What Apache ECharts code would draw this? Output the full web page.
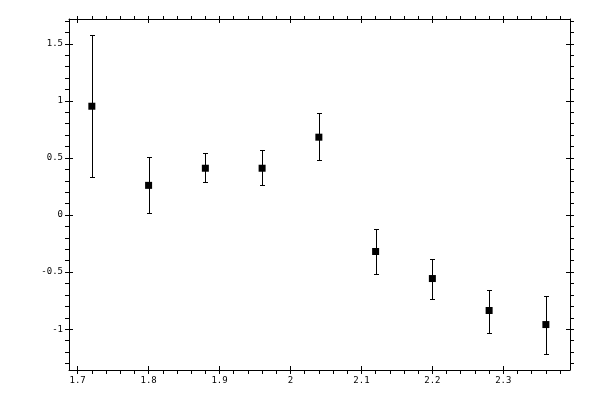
<!DOCTYPE html>
<html>
<head>
<meta charset="utf-8">
<script src="https://cdn.jsdelivr.net/npm/echarts@6/dist/echarts.min.js"></script>
<style>
html,body{margin:0;padding:0;background:#fff;}
#chart{width:600px;height:400px;}
</style>
</head>
<body>
<div id="chart"></div>
<script>
// data
var xValues = [1.72, 1.80, 1.88, 1.96, 2.04, 2.12, 2.20, 2.28, 2.36];
var yValues = [0.953, 0.26, 0.41, 0.41, 0.682, -0.319, -0.556, -0.836, -0.959];
var yLow    = [0.333, 0.015, 0.287, 0.26, 0.48, -0.512, -0.731, -1.029, -1.213];
var yHigh   = [1.576, 0.509, 0.541, 0.567, 0.892, -0.126, -0.381, -0.652, -0.713];

// tick labels / tick positions
var xMajorTicks = [1.7, 1.8, 1.9, 2.0, 2.1, 2.2, 2.3];
var xMinorTicks = [1.72, 1.74, 1.76, 1.78, 1.82, 1.84, 1.86, 1.88, 1.92, 1.94, 1.96, 1.98,
                   2.02, 2.04, 2.06, 2.08, 2.12, 2.14, 2.16, 2.18, 2.22, 2.24, 2.26, 2.28,
                   2.32, 2.34, 2.36, 2.38];
var yMajorTicks = [-1, -0.5, 0, 0.5, 1, 1.5];
var yMinorTicks = [-1.3, -1.2, -1.1, -0.9, -0.8, -0.7, -0.6, -0.4, -0.3, -0.2, -0.1,
                   0.1, 0.2, 0.3, 0.4, 0.6, 0.7, 0.8, 0.9, 1.1, 1.2, 1.3, 1.4, 1.6, 1.7];

var xMin = 1.6878, xMax = 2.394;
var yMin = -1.357, yMax = 1.717;

var allX = xMajorTicks.concat(xMinorTicks);
var allY = yMajorTicks.concat(yMinorTicks);

var FONT = 'DejaVu Sans Mono';
var lineStyle = {color: '#000', width: 1};

function axisBase(extra) {
  var a = {
    type: 'value', scale: true,
    splitLine: {show: false},
    axisLine: {show: false, onZero: false, lineStyle: lineStyle},
    axisLabel: {show: false},
    axisTick: {show: false}
  };
  for (var k in extra) a[k] = extra[k];
  return a;
}

var xAxes = [
  axisBase({position: 'bottom', min: xMin, max: xMax,
    axisLine: {show: true, onZero: false, lineStyle: lineStyle},
    axisTick: {show: true, inside: true, length: 4, customValues: xMajorTicks, lineStyle: lineStyle},
    axisLabel: {show: true, customValues: xMajorTicks, color: '#000', fontFamily: FONT, fontSize: 9, margin: 6}
  }),
  axisBase({position: 'bottom', min: xMin, max: xMax,
    axisTick: {show: true, inside: false, length: 4, customValues: allX, lineStyle: lineStyle}
  }),
  axisBase({position: 'top', min: xMin, max: xMax,
    axisLine: {show: true, onZero: false, lineStyle: lineStyle},
    axisTick: {show: true, inside: true, length: 4, customValues: xMajorTicks, lineStyle: lineStyle}
  }),
  axisBase({position: 'top', min: xMin, max: xMax,
    axisTick: {show: true, inside: false, length: 3, customValues: allX, lineStyle: lineStyle}
  })
];

var yAxes = [
  axisBase({position: 'left', min: yMin, max: yMax,
    axisLine: {show: true, onZero: false, lineStyle: lineStyle},
    axisTick: {show: true, inside: true, length: 4, customValues: yMajorTicks, lineStyle: lineStyle},
    axisLabel: {show: true, customValues: yMajorTicks, color: '#000', fontFamily: FONT, fontSize: 9, margin: 6}
  }),
  axisBase({position: 'left', min: yMin, max: yMax,
    axisTick: {show: true, inside: false, length: 4, customValues: allY, lineStyle: lineStyle}
  }),
  axisBase({position: 'right', min: yMin, max: yMax,
    axisLine: {show: true, onZero: false, lineStyle: lineStyle},
    axisTick: {show: true, inside: true, length: 4, customValues: yMajorTicks, lineStyle: lineStyle}
  }),
  axisBase({position: 'right', min: yMin, max: yMax,
    axisTick: {show: true, inside: false, length: 4, customValues: allY, lineStyle: lineStyle}
  })
];

var points = xValues.map(function (x, i) { return [x, yValues[i]]; });
var errors = xValues.map(function (x, i) { return [x, yLow[i], yHigh[i]]; });

var option = {
  backgroundColor: '#fff',
  animation: false,
  grid: {left: 69, top: 19, right: 30, bottom: 30, containLabel: false},
  xAxis: xAxes,
  yAxis: yAxes,
  series: [
    {
      type: 'custom',
      xAxisIndex: 0, yAxisIndex: 0,
      data: errors,
      silent: true,
      renderItem: function (params, api) {
        var x = api.value(0);
        var lo = api.coord([x, api.value(1)]);
        var hi = api.coord([x, api.value(2)]);
        var cx = Math.round(lo[0]) + 0.5;
        var yl = Math.round(lo[1]) + 0.5;
        var yh = Math.round(hi[1]) + 0.5;
        var hw = 2.5;
        var st = {stroke: '#000', lineWidth: 1, fill: null};
        return {
          type: 'group',
          children: [
            {type: 'line', shape: {x1: cx, y1: yh, x2: cx, y2: yl}, style: st},
            {type: 'line', shape: {x1: cx - hw, y1: yh, x2: cx + hw, y2: yh}, style: st},
            {type: 'line', shape: {x1: cx - hw, y1: yl, x2: cx + hw, y2: yl}, style: st}
          ]
        };
      },
      z: 2
    },
    {
      type: 'scatter',
      xAxisIndex: 0, yAxisIndex: 0,
      data: points,
      symbol: 'rect',
      symbolSize: 7,
      itemStyle: {color: '#000', opacity: 1},
      emphasis: {disabled: true},
      z: 3
    }
  ]
};

var chart = echarts.init(document.getElementById('chart'), null, {renderer: 'canvas'});
chart.setOption(option);
</script>
</body>
</html>
